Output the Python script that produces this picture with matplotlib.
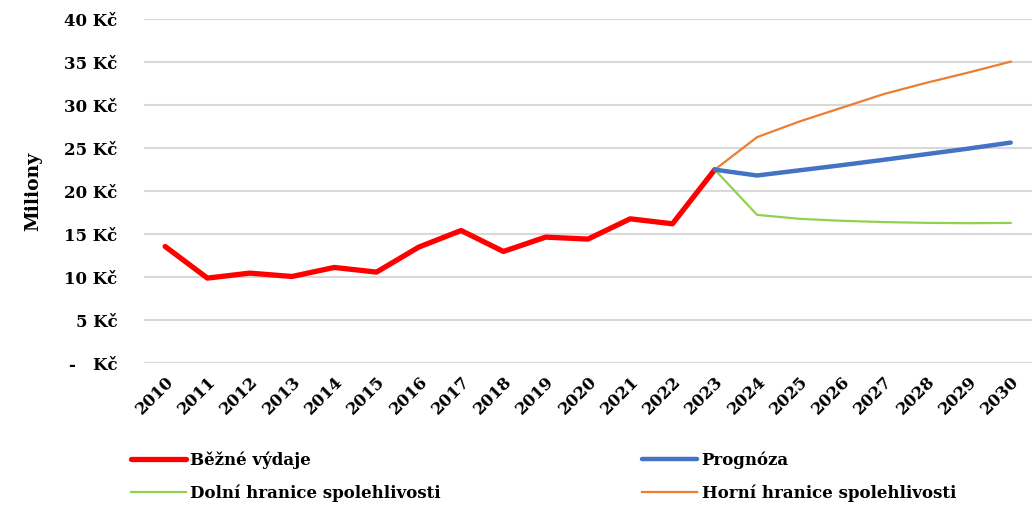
import matplotlib.pyplot as plt

plt.rcParams['font.family'] = ['DejaVu Serif']
plt.rcParams['font.weight'] = 'bold'
plt.rcParams['axes.labelweight'] = 'bold'

years = [str(y) for y in range(2010, 2031)]

# actual spending 2010-2023 (millions CZK)
bezne = [13.56, 9.88, 10.46, 10.07, 11.12, 10.58, 13.49, 15.42, 12.98, 14.65, 14.42, 16.78, 16.2, 22.5]
# forecast 2023-2030
prognoza = [22.5, 21.82, 22.42, 23.02, 23.65, 24.3, 24.95, 25.65]
dolni = [22.5, 17.24, 16.78, 16.55, 16.4, 16.31, 16.27, 16.3]
horni = [22.5, 26.28, 28.1, 29.7, 31.3, 32.6, 33.8, 35.07]

yticks = [0, 5, 10, 15, 20, 25, 30, 35, 40]
ytick_labels = ['-   Kč', '5 Kč', '10 Kč', '15 Kč', '20 Kč', '25 Kč', '30 Kč', '35 Kč', '40 Kč']

fig = plt.figure(figsize=(10.36, 5.07), dpi=100)
ax = fig.add_axes([0.139, 0.284, 0.857, 0.678])

x_hist = list(range(len(bezne)))
x_fc = list(range(13, 13 + len(prognoza)))

l1, = ax.plot(x_hist, bezne, color='#FF0000', lw=3.8, solid_capstyle='round', label='Běžné výdaje')
l3, = ax.plot(x_fc, dolni, color='#92D050', lw=1.6, label='Dolní hranice spolehlivosti')
l4, = ax.plot(x_fc, horni, color='#ED7D31', lw=1.6, label='Horní hranice spolehlivosti')
l2, = ax.plot(x_fc, prognoza, color='#4472C4', lw=3.2, solid_capstyle='round', label='Prognóza')

ax.set_xlim(-0.5, len(years) - 0.5)
ax.set_ylim(0, 40)
ax.set_xticks(range(len(years)))
ax.set_xticklabels(years, rotation=45, ha='right', rotation_mode='anchor', fontsize=12)
ax.set_yticks(yticks)
ax.set_yticklabels(ytick_labels, fontsize=12)
ax.tick_params(length=0)
ax.tick_params(axis='y', pad=19)
ax.tick_params(axis='x', pad=7)
ax.grid(axis='y', color='#D9D9D9', lw=1.5)
ax.set_axisbelow(True)
for s in ax.spines.values():
    s.set_visible(False)

ax.set_ylabel('Miliony', fontsize=13.5, labelpad=16)

fig.legend([l1, l3, l2, l4],
           ['Běžné výdaje', 'Dolní hranice spolehlivosti', 'Prognóza', 'Horní hranice spolehlivosti'],
           ncol=2, frameon=False, fontsize=12, handlelength=3.3, handletextpad=0.25,
           columnspacing=12.1, labelspacing=0.95,
           loc='upper left', bbox_to_anchor=(0.112, 0.14))

plt.savefig('out.png', dpi=100)
